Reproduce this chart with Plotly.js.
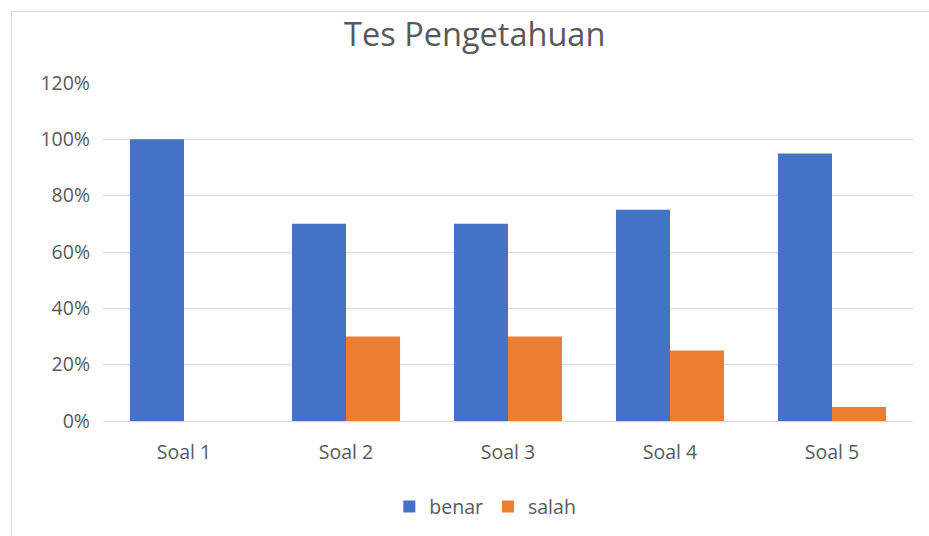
<!DOCTYPE html>
<html>
<head>
<meta charset="utf-8">
<script src="https://cdn.plot.ly/plotly-3.0.1.min.js"></script>
<style>
html,body{margin:0;padding:0;background:#fff;overflow:hidden;}
#frame{position:absolute;left:11px;top:11px;width:940px;height:560px;border-left:1px solid #d9d9d9;border-top:1px solid #d9d9d9;box-sizing:border-box;}
#chart{position:absolute;left:0;top:0;width:929px;height:536px;}
</style>
</head>
<body>
<div id="frame"></div>
<div id="chart"></div>
<script>
const categories = ["Soal 1", "Soal 2", "Soal 3", "Soal 4", "Soal 5"];
const benar = [1.00, 0.70, 0.70, 0.75, 0.95];
const salah = [0.00, 0.30, 0.30, 0.25, 0.05];
const yTicks = [0, 0.2, 0.4, 0.6, 0.8, 1.0, 1.2];
const yTickText = ["0%", "20%", "40%", "60%", "80%", "100%", "120%"];

const font = "'Open Sans', sans-serif";
const traces = [
  {type: "bar", name: "benar", x: categories, y: benar, marker: {color: "#4472c4"}, hoverinfo: "skip"},
  {type: "bar", name: "salah", x: categories, y: salah, marker: {color: "#ed7d31"}, hoverinfo: "skip"}
];
const layout = {
  width: 929, height: 536,
  paper_bgcolor: "rgba(0,0,0,0)", plot_bgcolor: "rgba(0,0,0,0)",
  margin: {l: 103, r: 16, t: 83, b: 115, autoexpand: false},
  barmode: "group", bargap: 0.333, bargroupgap: 0,
  title: {text: "Tes Pengetahuan", x: 0.511, xref: "container", xanchor: "center", y: 1 - 35/536, yref: "container", yanchor: "middle",
          font: {family: font, size: 32.5, color: "#595959"}},
  xaxis: {type: "category", showgrid: false, zeroline: false, showline: true, linecolor: "#d9d9d9", linewidth: 1,
          ticks: "", tickfont: {family: font, size: 19.5, color: "#595959"}, ticklabelstandoff: 14},
  yaxis: {range: [0, 1.2], tickvals: yTicks, ticktext: yTickText, showgrid: true, gridcolor: "#d9d9d9", gridwidth: 1,
          zeroline: true, zerolinecolor: "#d9d9d9", showline: false, ticks: "",
          tickfont: {family: font, size: 19.5, color: "#595959"}, ticklabelstandoff: 12},
  showlegend: true,
  legend: {orientation: "h", x: 0.472, xanchor: "center", y: -0.254, yanchor: "middle",
           font: {family: font, size: 19.5, color: "#595959"}, itemwidth: 30, traceorder: "normal"}
};
Plotly.newPlot("chart", traces, layout, {staticPlot: true, displayModeBar: false});
</script>
</body>
</html>
